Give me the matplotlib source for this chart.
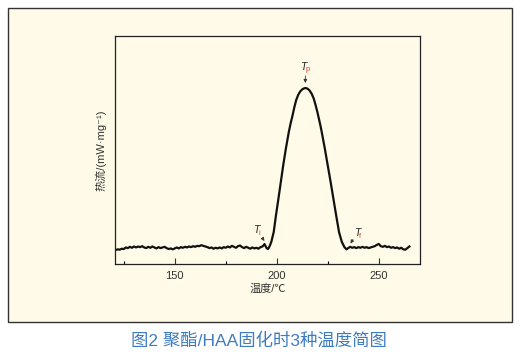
import matplotlib.pyplot as plt
from matplotlib.patches import Rectangle

plt.rcParams['font.family'] = ['Liberation Sans', 'Noto Sans CJK SC', 'DejaVu Sans']

# baseline before the peak (1 degree steps)
base1_t = list(range(121, 196))
base1_y = [-0.012, -0.008, -0.01, -0.004, -0.006, 0.004, 0.0, 0.008, 0.002, 0.01,
           0.004, 0.01, 0.006, 0.012, 0.004, 0.0, 0.008, 0.002, 0.01, 0.004,
           -0.002, 0.006, 0.0, 0.004, 0.008, 0.0, -0.006, -0.002, -0.008, -0.002,
           0.004, -0.002, 0.006, 0.002, 0.008, 0.004, 0.01, 0.006, 0.012, 0.008,
           0.014, 0.012, 0.018, 0.014, 0.01, 0.006, 0.0, 0.004, -0.004, 0.002,
           -0.002, 0.004, -0.002, 0.006, 0.002, 0.01, 0.004, 0.014, 0.008, 0.002,
           0.012, 0.016, 0.006, 0.0, 0.008, 0.002, -0.004, 0.004, -0.002, 0.002,
           -0.004, 0.006, 0.01, 0.025, 0.0]

# exothermic peak
peak_t = [195.7, 196.5, 197.3, 198.5, 199.6, 200.8, 201.95, 203.15, 204.45, 205.9,
          206.8, 207.75, 208.6, 209.5, 210.5, 211.5, 212.5, 213.4, 214.2, 215.1,
          216.1, 217.1, 218.1, 219.0, 219.9, 220.7, 221.4, 222.1, 223.55, 225.0,
          226.4, 227.75, 229.1, 230.5, 231.9, 233.2, 234.2]
peak_y = [-0.006, 0.012, 0.038, 0.101, 0.206, 0.31, 0.415, 0.52, 0.625, 0.73,
          0.785, 0.835, 0.885, 0.93, 0.963, 0.985, 0.998, 1.004, 1.006, 1.002,
          0.99, 0.97, 0.94, 0.9, 0.855, 0.81, 0.77, 0.725, 0.625, 0.52,
          0.415, 0.31, 0.206, 0.101, 0.038, 0.005, -0.008]

# baseline after the peak
base2_t = list(range(235, 266))
base2_y = [0.0, 0.008, 0.002, 0.006, 0.0, 0.006, 0.002, 0.008, 0.002, 0.006,
           0.0, 0.004, 0.008, 0.012, 0.02, 0.026, 0.012, 0.008, 0.014, 0.006,
           0.01, 0.002, 0.006, 0.0, 0.004, -0.004, 0.002, -0.008, -0.01, 0.0, 0.01]

temp = base1_t + peak_t + base2_t
flow = base1_y + peak_y + base2_y

cream = '#fffbe8'
fig = plt.figure(figsize=(5.23, 3.61), dpi=100)
fig.patches.append(Rectangle((8 / 523, 39 / 361), 504 / 523, 314 / 361, transform=fig.transFigure,
                             facecolor=cream, edgecolor='#333333', linewidth=1.0, zorder=-10))

ax = fig.add_axes([115 / 523, 97 / 361, 305 / 523, 228 / 361])
ax.set_zorder(5)
ax.set_facecolor(cream)
ax.plot(temp, flow, color='#111111', linewidth=1.6)
ax.set_xlim(120.7, 270.2)
ax.set_ylim(-0.10, 1.333)
ax.set_yticks([])
ax.set_xticks([150, 200, 250])
ax.set_xticks([125, 175, 225], minor=True)
ax.tick_params(axis='x', direction='in', length=4, width=0.8, labelsize=8, colors='#333333', pad=5)
ax.tick_params(axis='x', which='minor', direction='in', length=2.5, width=0.8)
for sp in ax.spines.values():
    sp.set_color('#222222')
    sp.set_linewidth(0.9)
ax.set_xlabel('温度/℃', fontsize=8, color='#333333', labelpad=2)
ax.set_ylabel('热流/(mW·mg⁻¹)', fontsize=8, color='#333333', labelpad=6)

red = '#e0461e'
# Tp
ax.text(212.9, 1.14, 'T', fontsize=7.5, style='italic', ha='center', va='center', color='#222222')
ax.text(214.9, 1.12, 'p', fontsize=5.5, ha='center', va='center', color=red)
ax.annotate('', xy=(214.0, 1.02), xytext=(214.0, 1.10),
            arrowprops=dict(arrowstyle='-|>', color='#333333', lw=0.6, mutation_scale=5))
# Ti
ax.text(189.8, 0.113, 'T', fontsize=7.5, style='italic', ha='center', va='center', color='#222222')
ax.text(191.6, 0.093, 'i', fontsize=5.5, ha='center', va='center', color=red)
ax.annotate('', xy=(194.7, 0.03), xytext=(192.6, 0.07),
            arrowprops=dict(arrowstyle='-|>', color='#333333', lw=0.6, mutation_scale=5))
# Tf
ax.text(239.3, 0.094, 'T', fontsize=7.5, style='italic', ha='center', va='center', color='#222222')
ax.text(241.0, 0.074, 'f', fontsize=5.5, ha='center', va='center', color=red)
ax.annotate('', xy=(235.5, 0.013), xytext=(238.0, 0.07),
            arrowprops=dict(arrowstyle='-|>', color='#333333', lw=0.6, mutation_scale=5))

fig.text(259 / 523, 1 - 341 / 361, '图2 聚酯/HAA固化时3种温度简图', fontsize=12.5,
         color='#3f7cc0', ha='center', va='center')

fig.savefig('out.png', dpi=100)
